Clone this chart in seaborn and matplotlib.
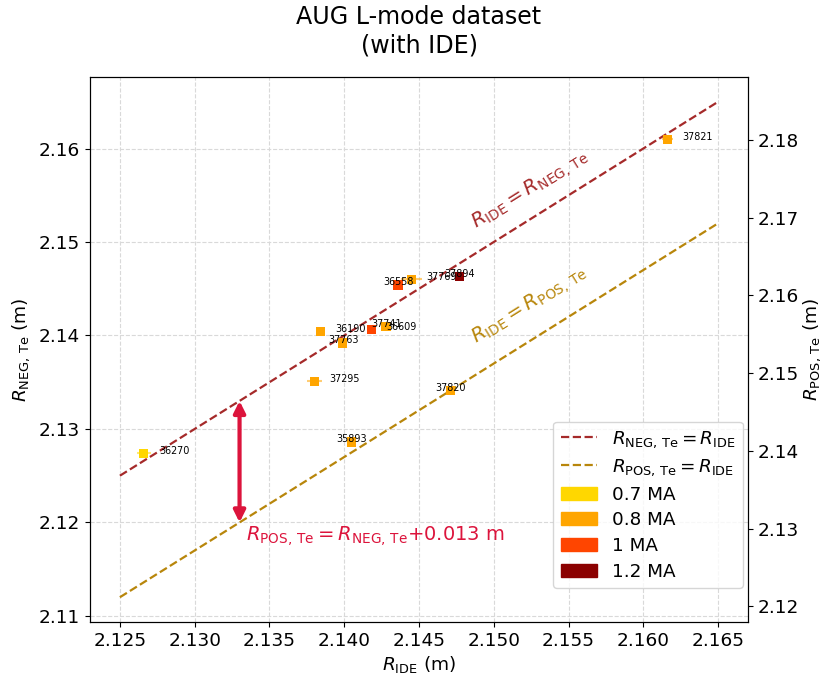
import numpy as np
import pandas as pd
import matplotlib
matplotlib.use("Agg")
import matplotlib.pyplot as plt
import seaborn as sns
from matplotlib.lines import Line2D
from matplotlib.patches import Patch

# ---- data ----
shots = ["36270", "37295", "37820", "35893", "37821", "36558",
         "37769", "37894", "36190", "37763", "37741", "36609"]
r_ide = [2.1266, 2.1380, 2.1471, 2.1405, 2.1616, 2.1436,
         2.1445, 2.1477, 2.1384, 2.1399, 2.1428, 2.1418]
r_neg = [2.1274, 2.1351, 2.1341, 2.1286, 2.1610, 2.1454,
         2.1460, 2.1463, 2.1404, 2.1392, 2.1410, 2.1406]
r_ide_err = [0.00045, 0.0005, 0.0003, 0.0003, 0.00037, 0.0003,
             0.0007, 0.0003, 0.0003, 0.0003, 0.0003, 0.0003]
current = ["0.7 MA", "0.8 MA", "0.8 MA", "0.8 MA", "0.8 MA", "1 MA",
           "0.8 MA", "1.2 MA", "0.8 MA", "0.8 MA", "0.8 MA", "1 MA"]
label_side = [1, 1, -1, -1, 1, -1, 1, -1, 1, -1, -1, 1]
current_levels = ["0.7 MA", "0.8 MA", "1 MA", "1.2 MA"]
current_colors = ["#FFD700", "#FFA500", "#FF4500", "#8B0000"]
line_x = [2.125, 2.165]
pos_offset = 0.013
x_ticks = [2.125, 2.130, 2.135, 2.140, 2.145, 2.150, 2.155, 2.160, 2.165]
left_ticks = [2.11, 2.12, 2.13, 2.14, 2.15, 2.16]
right_ticks = [2.12, 2.13, 2.14, 2.15, 2.16, 2.17, 2.18]
right_ylim = (2.1180, 2.1881)
arrow_x = 2.133

df = pd.DataFrame({"shot": shots, "r_ide": r_ide, "r_neg": r_neg,
                   "err": r_ide_err, "current": current, "side": label_side})
palette = dict(zip(current_levels, current_colors))

sns.set_style("ticks")
plt.rcParams["font.family"] = ["DejaVu Sans"]
plt.rcParams["mathtext.fontset"] = "dejavusans"
for k in ["text.color", "axes.labelcolor", "xtick.color", "ytick.color",
          "axes.edgecolor"]:
    plt.rcParams[k] = "black"

fig = plt.figure(figsize=(8.21, 6.75), dpi=100)
W, H = 821, 675
ax = fig.add_axes([90 / W, 1 - 622 / H, (748 - 90) / W, (622 - 77) / H])

lines_df = pd.DataFrame({"x": line_x, "neg": line_x,
                         "pos": [v - pos_offset for v in line_x]})
sns.lineplot(data=lines_df, x="x", y="neg", ax=ax, color="brown",
             linestyle="--", lw=1.6, zorder=2)
sns.lineplot(data=lines_df, x="x", y="pos", ax=ax, color="darkgoldenrod",
             linestyle="--", lw=1.6, zorder=2)

for _, r in df.iterrows():
    ax.errorbar(r.r_ide, r.r_neg, xerr=r.err, fmt="none",
                ecolor=palette[r.current], alpha=0.55, lw=1.5, zorder=3)
sns.scatterplot(data=df, x="r_ide", y="r_neg", hue="current",
                palette=palette, marker="s", s=44, linewidth=0,
                ax=ax, legend=False, zorder=4)

for _, r in df.iterrows():
    ax.text(r.r_ide + 0.001 * r.side, r.r_neg + 0.00028, r.shot,
            fontsize=6.9, ha="left", va="center", zorder=5)

ax.set_xlim(2.123, 2.167)
ax.set_ylim(2.10935, 2.16765)
ax.set_xticks(x_ticks)
ax.set_xticklabels([f"{v:.3f}" for v in x_ticks])
ax.set_yticks(left_ticks)
ax.set_yticklabels([f"{v:.2f}" for v in left_ticks])
ax.tick_params(labelsize=13.3)
ax.grid(True, linestyle="--", color="#d9d9d9", lw=0.8)
ax.set_axisbelow(True)
ax.set_xlabel(r"$R_{\rm IDE}$ (m)", fontsize=13.3, labelpad=3)
ax.set_ylabel(r"$R_{\rm NEG,\,Te}$ (m)", fontsize=13.3, labelpad=5)

# annotations
ax.text(2.1524, 2.1556, r"$R_{\rm IDE} = R_{\rm NEG,\,Te}$", color="brown",
        fontsize=14.2, rotation=32, ha="center", va="center",
        rotation_mode="anchor")
ax.text(2.1524, 2.1433, r"$R_{\rm IDE} = R_{\rm POS,\,Te}$",
        color="darkgoldenrod", fontsize=14.2, rotation=32, ha="center",
        va="center", rotation_mode="anchor")
ax.annotate("", xy=(arrow_x, arrow_x), xytext=(arrow_x, arrow_x - pos_offset),
            arrowprops=dict(arrowstyle="<|-|>", color="crimson", lw=3,
                            mutation_scale=17, shrinkA=0, shrinkB=0))
ax.text(2.1334, 2.1180,
        r"$R_{\rm POS,\,Te} = R_{\rm NEG,\,Te}$+0.013 m",
        color="crimson", fontsize=14, ha="left", va="baseline")

handles = [Line2D([], [], color="brown", ls="--", lw=1.6,
                  label=r"$R_{\rm NEG,\,Te} = R_{\rm IDE}$"),
           Line2D([], [], color="darkgoldenrod", ls="--", lw=1.6,
                  label=r"$R_{\rm POS,\,Te} = R_{\rm IDE}$")]
handles += [Patch(color=c, label=l) for l, c in zip(current_levels, current_colors)]
ax.legend(handles=handles, loc="lower right", bbox_to_anchor=(0.9924, 0.0624),
          borderaxespad=0, fontsize=13.2, frameon=True, labelspacing=0.42)

ax2 = ax.twinx()
ax2.set_ylim(*right_ylim)
ax2.set_yticks(right_ticks)
ax2.set_yticklabels([f"{v:.2f}" for v in right_ticks])
ax2.tick_params(labelsize=13.3)
ax2.set_ylabel(r"$R_{\rm POS,\,Te}$ (m)", fontsize=13.3, labelpad=2)

ax.set_title("AUG L-mode dataset\n(with IDE)", fontsize=17.1, pad=18)

fig.savefig("out.png", dpi=100)
